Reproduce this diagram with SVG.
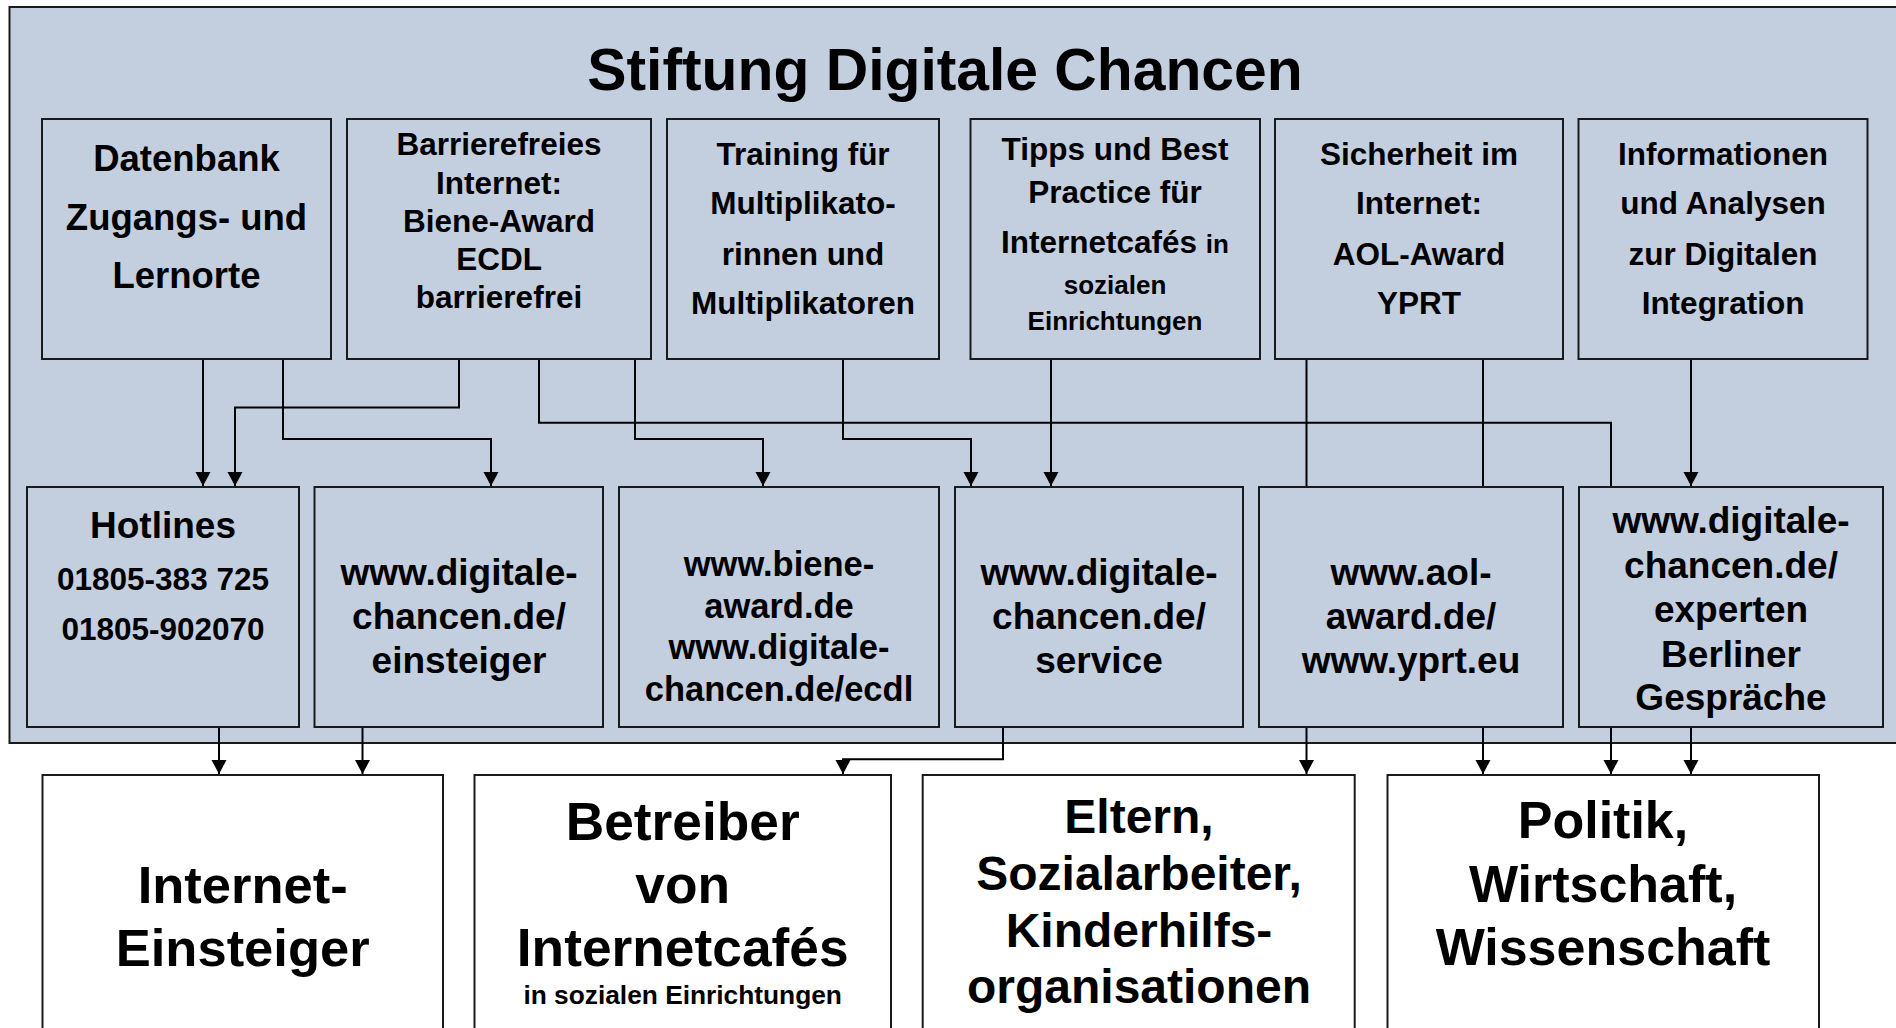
<svg xmlns="http://www.w3.org/2000/svg" width="1896" height="1028" viewBox="0 0 1896 1028">
<defs>
<style>
.bg{fill:#ffffff}
.outer{fill:#c3cedf;stroke:#1a1a1a;stroke-width:2}
.box{fill:#c3cedf;stroke:#1a1a1a;stroke-width:2}
.wbox{fill:#ffffff;stroke:#1a1a1a;stroke-width:2}
text{font-family:"Liberation Sans",Arial,Helvetica,sans-serif;font-weight:bold;fill:#000;text-anchor:middle}
.conn{fill:none;stroke:#000;stroke-width:2}
</style>
<marker id="arr" markerUnits="userSpaceOnUse" markerWidth="16" markerHeight="16" viewBox="0 -8 15 16" refX="14" refY="0" orient="auto">
<path d="M0,-7.5 L14,0 L0,7.5 z" fill="#000"/>
</marker>
</defs>
<rect class="bg" x="0" y="0" width="1896" height="1028"/>
<rect class="outer" x="9.5" y="7" width="1900" height="736"/>
<text x="945" y="90" font-size="58.8">Stiftung Digitale Chancen</text>

<g id="connectors">
<path class="conn" d="M203 359 V486" marker-end="url(#arr)"/>
<path class="conn" d="M459 359 V407.5 H235 V486" marker-end="url(#arr)"/>
<path class="conn" d="M283 359 V439 H491 V486" marker-end="url(#arr)"/>
<path class="conn" d="M539 359 V422.7 H1611 V487"/>
<path class="conn" d="M635 359 V439 H763 V486" marker-end="url(#arr)"/>
<path class="conn" d="M843 359 V439 H971 V486" marker-end="url(#arr)"/>
<path class="conn" d="M1051 359 V486" marker-end="url(#arr)"/>
<path class="conn" d="M1306.5 359 V487"/>
<path class="conn" d="M1483 359 V487"/>
<path class="conn" d="M1691 359 V486" marker-end="url(#arr)"/>
<path class="conn" d="M219 727 V774" marker-end="url(#arr)"/>
<path class="conn" d="M362.5 727 V774" marker-end="url(#arr)"/>
<path class="conn" d="M1003 727 V759.3 H843 V774" marker-end="url(#arr)"/>
<path class="conn" d="M1306.5 727 V774" marker-end="url(#arr)"/>
<path class="conn" d="M1483 727 V774" marker-end="url(#arr)"/>
<path class="conn" d="M1611 727 V774" marker-end="url(#arr)"/>
<path class="conn" d="M1691 727 V774" marker-end="url(#arr)"/>
</g>

<g id="n-datenbank">
<rect class="box" x="42" y="119" width="289" height="240"/>
<text x="186.5" font-size="36.5"><tspan x="186.5" y="171">Datenbank</tspan><tspan x="186.5" y="230">Zugangs- und</tspan><tspan x="186.5" y="288">Lernorte</tspan></text>
</g>
<g id="n-barrierefrei">
<rect class="box" x="347" y="119" width="304" height="240"/>
<text x="499" font-size="31.5"><tspan x="499" y="155">Barrierefreies</tspan><tspan x="499" y="193.5">Internet:</tspan><tspan x="499" y="232">Biene-Award</tspan><tspan x="499" y="270">ECDL</tspan><tspan x="499" y="308">barrierefrei</tspan></text>
</g>
<g id="n-training">
<rect class="box" x="667" y="119" width="272" height="240"/>
<text x="803" font-size="31.5"><tspan x="803" y="164.5">Training für</tspan><tspan x="803" y="214">Multiplikato-</tspan><tspan x="803" y="265">rinnen und</tspan><tspan x="803" y="314">Multiplikatoren</tspan></text>
</g>
<g id="n-tipps">
<rect class="box" x="970.5" y="119" width="289.5" height="240"/>
<text x="1115" font-size="31.5"><tspan x="1115" y="159.5">Tipps und Best</tspan><tspan x="1115" y="203">Practice für</tspan><tspan x="1115" y="252.5">Internetcafés <tspan font-size="26">in</tspan></tspan></text>
<text x="1115" font-size="26"><tspan x="1115" y="294">sozialen</tspan><tspan x="1115" y="330">Einrichtungen</tspan></text>
</g>
<g id="n-sicherheit">
<rect class="box" x="1275" y="119" width="288" height="240"/>
<text x="1419" font-size="31.5"><tspan x="1419" y="164.5">Sicherheit im</tspan><tspan x="1419" y="214">Internet:</tspan><tspan x="1419" y="265">AOL-Award</tspan><tspan x="1419" y="314">YPRT</tspan></text>
</g>
<g id="n-informationen">
<rect class="box" x="1578.5" y="119" width="289" height="240"/>
<text x="1723" font-size="31.5"><tspan x="1723" y="164.5">Informationen</tspan><tspan x="1723" y="214">und Analysen</tspan><tspan x="1723" y="265">zur Digitalen</tspan><tspan x="1723" y="314">Integration</tspan></text>
</g>

<g id="n-hotlines">
<rect class="box" x="27" y="487" width="272" height="240"/>
<text x="163" y="538" font-size="37">Hotlines</text>
<text x="163" font-size="31.5"><tspan x="163" y="590">01805-383 725</tspan><tspan x="163" y="640">01805-902070</tspan></text>
</g>
<g id="n-einsteiger">
<rect class="box" x="314.5" y="487" width="288.5" height="240"/>
<text x="459" font-size="37"><tspan x="459" y="585">www.digitale-</tspan><tspan x="459" y="629">chancen.de/</tspan><tspan x="459" y="673">einsteiger</tspan></text>
</g>
<g id="n-biene">
<rect class="box" x="619" y="487" width="320" height="240"/>
<text x="779" font-size="34.5"><tspan x="779" y="576">www.biene-</tspan><tspan x="779" y="618">award.de</tspan><tspan x="779" y="659">www.digitale-</tspan><tspan x="779" y="701">chancen.de/ecdl</tspan></text>
</g>
<g id="n-service">
<rect class="box" x="955" y="487" width="288" height="240"/>
<text x="1099" font-size="37"><tspan x="1099" y="585">www.digitale-</tspan><tspan x="1099" y="629">chancen.de/</tspan><tspan x="1099" y="673">service</tspan></text>
</g>
<g id="n-aol">
<rect class="box" x="1259" y="487" width="304" height="240"/>
<text x="1411" font-size="37"><tspan x="1411" y="585">www.aol-</tspan><tspan x="1411" y="629">award.de/</tspan><tspan x="1411" y="673">www.yprt.eu</tspan></text>
</g>
<g id="n-experten">
<rect class="box" x="1579" y="487" width="304" height="240"/>
<text x="1731" font-size="37"><tspan x="1731" y="533">www.digitale-</tspan><tspan x="1731" y="578">chancen.de/</tspan><tspan x="1731" y="622">experten</tspan><tspan x="1731" y="667">Berliner</tspan><tspan x="1731" y="710">Gespräche</tspan></text>
</g>

<g id="n-internet-einsteiger">
<rect class="wbox" x="42.5" y="775" width="400.5" height="300"/>
<text x="242.7" font-size="52.5"><tspan x="242.7" y="903">Internet-</tspan><tspan x="242.7" y="966">Einsteiger</tspan></text>
</g>
<g id="n-betreiber">
<rect class="wbox" x="474.5" y="775" width="416.5" height="300"/>
<text x="682.7" font-size="53.3"><tspan x="682.7" y="840">Betreiber</tspan><tspan x="682.7" y="903">von</tspan><tspan x="682.7" y="966">Internetcafés</tspan></text>
<text x="682.7" y="1004" font-size="26.3">in sozialen Einrichtungen</text>
</g>
<g id="n-eltern">
<rect class="wbox" x="922.7" y="775" width="432" height="300"/>
<text x="1139" font-size="48"><tspan x="1139" y="833">Eltern,</tspan><tspan x="1139" y="890">Sozialarbeiter,</tspan><tspan x="1139" y="947">Kinderhilfs-</tspan><tspan x="1139" y="1003">organisationen</tspan></text>
</g>
<g id="n-politik">
<rect class="wbox" x="1387.5" y="775" width="431.5" height="300"/>
<text x="1603" font-size="52"><tspan x="1603" y="838">Politik,</tspan><tspan x="1603" y="902">Wirtschaft,</tspan><tspan x="1603" y="965">Wissenschaft</tspan></text>
</g>
</svg>
